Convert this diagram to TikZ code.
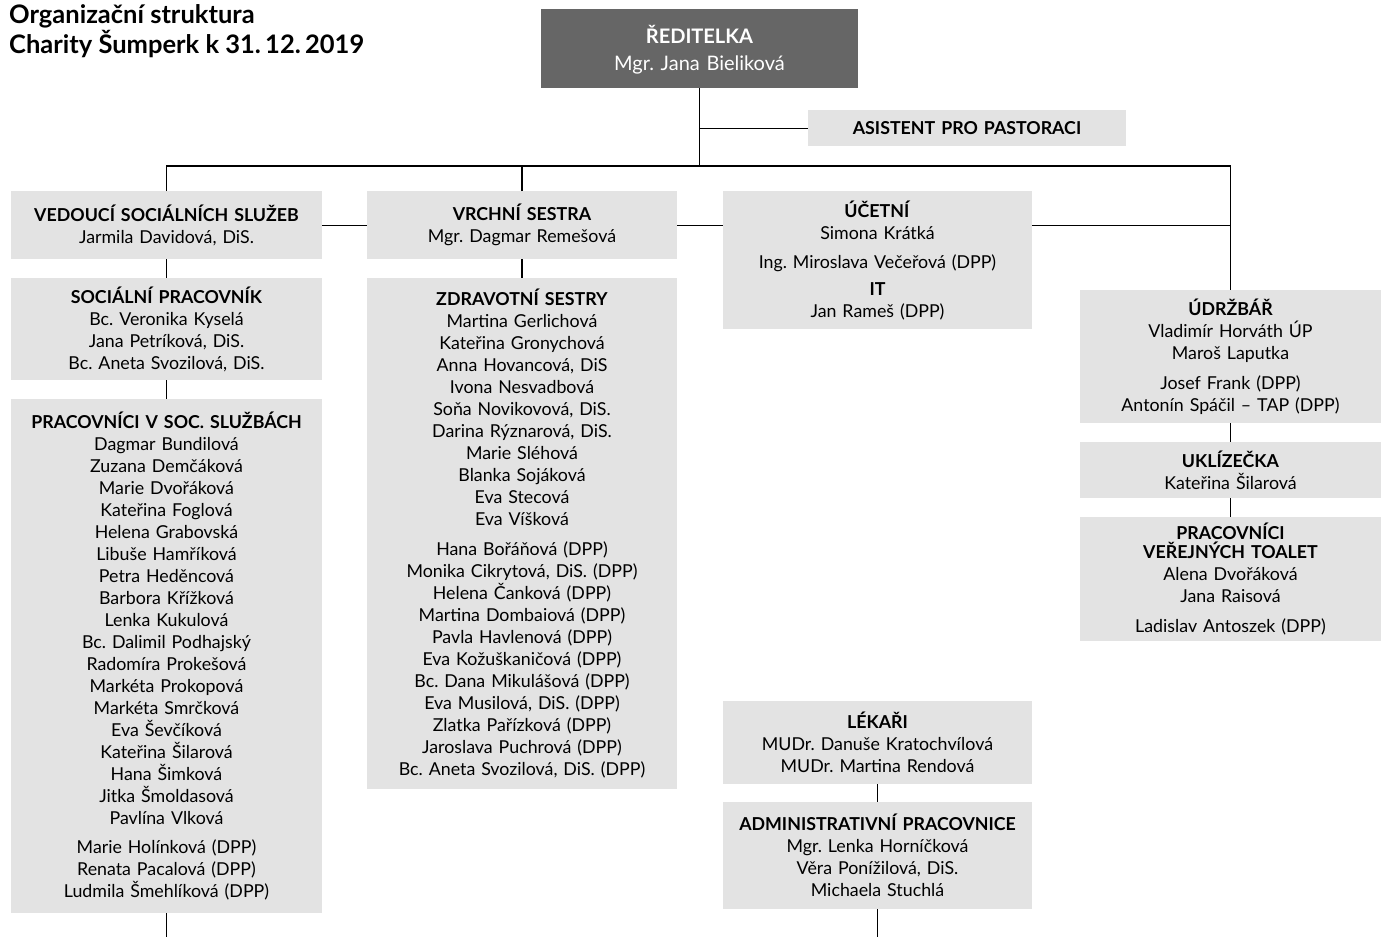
\documentclass[tikz,border=0pt]{standalone}
\usepackage{fontspec}
\setmainfont{Lato}
\definecolor{boxgray}{HTML}{E3E3E3}
\definecolor{headgray}{HTML}{666666}
\tikzset{
  unit/.style={fill=boxgray, inner sep=0pt, anchor=north, align=center,
    font=\fontsize{17.8}{22}\selectfont},
  headunit/.style={unit, fill=headgray, text=white,
    font=\fontsize{20}{27}\selectfont},
  link/.style={draw=black, line width=1.2pt}
}
\newcommand{\role}[1]{\textbf{#1}}
\frenchspacing

\begin{document}
\begin{tikzpicture}[x=1pt,y=-1pt]
    \useasboundingbox (0,0) rectangle (1381,937);

    \node[anchor=north west, align=left, inner sep=0pt,
      font=\fontsize{25.5}{30}\selectfont\bfseries] at (9,4) (title)
      {Organizační struktura\\Charity Šumperk k 31.\,12.\,2019};

    % vedeni
    \node[headunit, text width=317pt, minimum height=79pt] at (699.5,9) (Dir)
      {\rule{0pt}{21pt}\role{ŘEDITELKA}\\Mgr. Jana Bieliková};
    \node[unit, text width=318pt, minimum height=36pt] at (967,110) (Asist)
      {\role{ASISTENT PRO PASTORACI}};

    % socialni sluzby
    \node[unit, text width=311pt, minimum height=68pt] at (166.5,191) (Ved)
      {\role{VEDOUCÍ SOCIÁLNÍCH SLUŽEB}\\Jarmila Davidová, DiS.};
    \node[unit, text width=311pt, minimum height=102pt] at (166.5,278) (SocPrac)
      {\role{SOCIÁLNÍ PRACOVNÍK}\\Bc. Veronika Kyselá\\Jana Petríková, DiS.\\
       Bc. Aneta Svozilová, DiS.};
    \node[unit, text width=311pt, minimum height=514pt] at (166.5,399) (PracSoc)
      {\role{PRACOVNÍCI V SOC. SLUŽBÁCH}\\Dagmar Bundilová\\Zuzana Demčáková\\
       Marie Dvořáková\\Kateřina Foglová\\Helena Grabovská\\Libuše Hamříková\\
       Petra Heděncová\\Barbora Křížková\\Lenka Kukulová\\Bc. Dalimil Podhajský\\
       Radomíra Prokešová\\Markéta Prokopová\\Markéta Smrčková\\Eva Ševčíková\\
       Kateřina Šilarová\\Hana Šimková\\Jitka Šmoldasová\\Pavlína Vlková\\[7pt]
       Marie Holínková (DPP)\\Renata Pacalová (DPP)\\Ludmila Šmehlíková (DPP)};

    % zdravotni sluzby
    \node[unit, text width=310pt, minimum height=68pt] at (522,191) (Vrch)
      {\role{VRCHNÍ SESTRA}\\Mgr. Dagmar Remešová};
    \node[unit, text width=310pt, minimum height=511pt] at (522,278) (Zdrav)
      {\role{ZDRAVOTNÍ SESTRY}\\Martina Gerlichová\\Kateřina Gronychová\\
       Anna Hovancová, DiS\\Ivona Nesvadbová\\Soňa Novikovová, DiS.\\
       Darina Rýznarová, DiS.\\Marie Sléhová\\Blanka Sojáková\\Eva Stecová\\
       Eva Víšková\\[8pt]
       Hana Bořáňová (DPP)\\Monika Cikrytová, DiS. (DPP)\\Helena Čanková (DPP)\\
       Martina Dombaiová (DPP)\\Pavla Havlenová (DPP)\\Eva Kožuškaničová (DPP)\\
       Bc. Dana Mikulášová (DPP)\\Eva Musilová, DiS. (DPP)\\Zlatka Pařízková (DPP)\\
       Jaroslava Puchrová (DPP)\\Bc. Aneta Svozilová, DiS. (DPP)};

    % ekonomika a administrativa
    \node[unit, text width=309pt, minimum height=138pt] at (877.5,191) (Ucet)
      {\role{ÚČETNÍ}\\Simona Krátká\\[7pt]Ing. Miroslava Večeřová (DPP)\\[5pt]
       \role{IT}\\Jan Rameš (DPP)};
    \node[unit, text width=309pt, minimum height=83pt] at (877.5,701) (Lek)
      {\role{LÉKAŘI}\\MUDr. Danuše Kratochvílová\\MUDr. Martina Rendová};
    \node[unit, text width=309pt, minimum height=107pt] at (877.5,802) (Admin)
      {\role{ADMINISTRATIVNÍ PRACOVNICE}\\Mgr. Lenka Horníčková\\
       Věra Ponížilová, DiS.\\Michaela Stuchlá};

    % provoz
    \node[unit, text width=302pt, minimum height=133pt] at (1230.5,290) (Udrz)
      {\role{ÚDRŽBÁŘ}\\Vladimír Horváth ÚP\\Maroš Laputka\\[8pt]
       Josef Frank (DPP)\\Antonín Spáčil – TAP (DPP)};
    \node[unit, text width=302pt, minimum height=56pt] at (1230.5,442) (Ukl)
      {\role{UKLÍZEČKA}\\Kateřina Šilarová};
    \node[unit, text width=302pt, minimum height=124pt] at (1230.5,517) (Toal)
      {\role{PRACOVNÍCI}\\[-3pt]\role{VEŘEJNÝCH TOALET}\\Alena Dvořáková\\
       Jana Raisová\\[8pt]Ladislav Antoszek (DPP)};

    \coordinate (busL) at (166.5,166);
    \coordinate (busR) at (1230.5,166);
    \coordinate (busM) at (Dir.south |- busL);
    \coordinate (SocEnd) at (166.5,937);
    \coordinate (AdminEnd) at (877.5,937);

    \draw[link] (Dir.south) -- (busM);
    \draw[link] (Dir.south |- Asist.west) -- (Asist.west);
    \draw[link] (Ved.north) -- (busL) -- (busR) -- (Udrz.north);
    \draw[link] (Vrch.north) -- (Vrch.north |- busL);
    \draw[link] (Ved.east) -- (Vrch.west);
    \draw[link] (Vrch.east) -- (Vrch.east -| Ucet.west);
    \draw[link] (Ucet.east |- Vrch.east) -- (Udrz.north |- Vrch.east);
    \draw[link] (Ved.south) -- (SocPrac.north);
    \draw[link] (SocPrac.south) -- (PracSoc.north);
    \draw[link] (PracSoc.south) -- (SocEnd);
    \draw[link] (Vrch.south) -- (Zdrav.north);
    \draw[link] (Lek.south) -- (Admin.north);
    \draw[link] (Admin.south) -- (AdminEnd);
    \draw[link] (Udrz.south) -- (Ukl.north);
    \draw[link] (Ukl.south) -- (Toal.north);
  \end{tikzpicture}
\end{document}
